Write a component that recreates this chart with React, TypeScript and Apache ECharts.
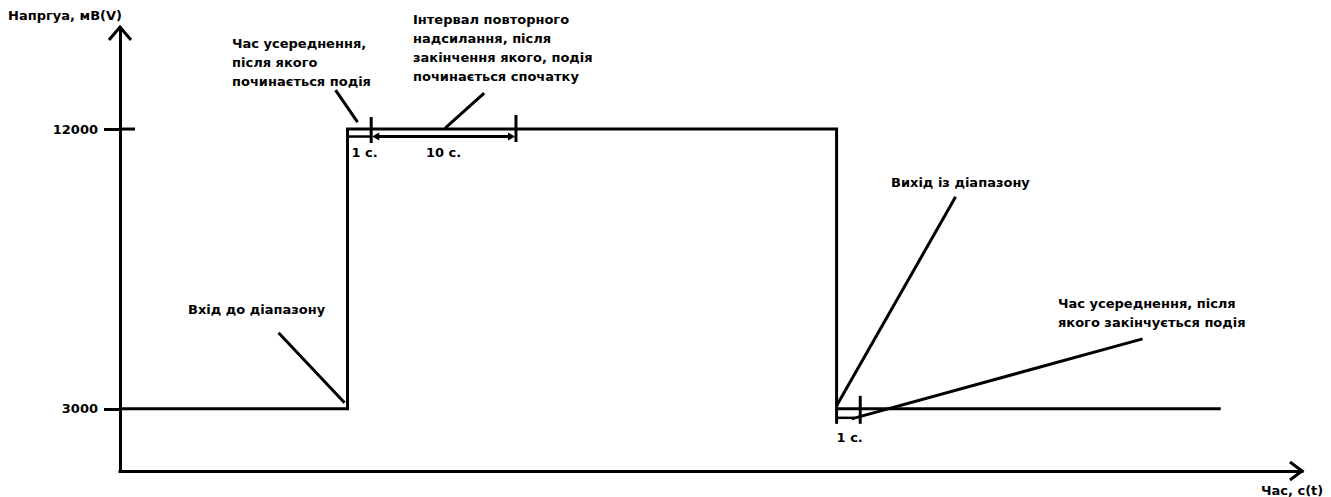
import React, { useEffect, useRef } from "react";
import * as echarts from "echarts";

// ---- data ----
const levelTimes = [0, 15.4, 15.4, 48.5, 48.5, 74.5];
const levelValues = [3000, 3000, 12000, 12000, 3000, 3000];
const yTickValues = [3000, 12000];
const highLevel = 12000;
const lowLevel = 3000;
const riseTime = 15.4;
const riseAvgEnd = 17.0; // "1 с."
const resendEnd = 26.8; // "10 с."
const fallTime = 48.5;
const fallAvgEnd = 50.1; // "1 с."
const xRange = [0, 80];
const yRange = [1000, 15250];

const yAxisName = "Напргуа, мВ(V)";
const xAxisName = "Час, с(t)";
const noteRiseAvg = ["Час усереднення,", "після якого", "починається подія"];
const noteResend = ["Інтервал повторного", "надсилання, після", "закінчення якого, подія", "починається спочатку"];
const noteEnter = ["Вхід до діапазону"];
const noteExit = ["Вихід із діапазону"];
const noteFallAvg = ["Час усереднення, після", "якого закінчується подія"];
const labelAvg = "1 с.";
const labelResend = "10 с.";

const FAMILY = '"DejaVu Sans", Verdana, sans-serif';
const FONT = `bold 13px ${FAMILY}`;
const BLACK = "#000";

export default function App() {
  const ref = useRef<HTMLDivElement>(null);

  useEffect(() => {
    if (!ref.current) return;
    const chart = echarts.init(ref.current, undefined, { renderer: "svg" });
    const gridLeft = 120, gridRight = 29, gridTop = 28, gridBottom = 26;

    chart.setOption({
      animation: false,
      grid: { left: gridLeft, right: gridRight, top: gridTop, bottom: gridBottom, containLabel: false },
      xAxis: {
        type: "value",
        min: xRange[0],
        max: xRange[1],
        axisLine: { show: true, onZero: false, lineStyle: { color: BLACK, width: 3, cap: "square" } },
        axisTick: { show: false },
        axisLabel: { show: false },
        splitLine: { show: false },
      },
      yAxis: {
        type: "value",
        min: yRange[0],
        max: yRange[1],
        axisLine: { show: true, onZero: false, lineStyle: { color: BLACK, width: 3, cap: "square" } },
        axisTick: { show: true, customValues: yTickValues, length: 16, lineStyle: { color: BLACK, width: 3 } },
        axisLabel: {
          show: true, customValues: yTickValues, margin: 22, color: BLACK,
          fontWeight: "bold", fontSize: 13, fontFamily: FAMILY,
          formatter: (v: number) => String(v),
        },
        splitLine: { show: false },
        name: yAxisName,
        nameLocation: "end",
        nameGap: 13,
        nameTextStyle: {
          color: BLACK, fontWeight: "bold", fontSize: 13, fontFamily: FAMILY,
          align: "right", verticalAlign: "middle", padding: [0, -2, 0, 0],
        },
      },
      series: [
        {
          type: "line",
          data: levelTimes.map((t, i) => [t, levelValues[i]]),
          showSymbol: false,
          symbol: "none",
          lineStyle: { color: BLACK, width: 3, join: "miter" },
          silent: true,
        },
      ],
    });

    const P = (t: number, v: number) => chart.convertToPixel({ gridIndex: 0 }, [t, v]) as number[];
    const W = chart.getWidth();
    const H = chart.getHeight();
    const x0 = gridLeft;
    const xEnd = W - gridRight;
    const yAxisY = H - gridBottom;

    const line = (x1: number, y1: number, x2: number, y2: number, w = 3) => ({
      type: "line",
      shape: { x1, y1, x2, y2 },
      style: { stroke: BLACK, lineWidth: w },
      silent: true,
    });
    const text = (lines: string[], x: number, yFirstCenter: number, align = "left") => ({
      type: "text",
      x,
      y: yFirstCenter - 9.5,
      style: {
        text: lines.join("\n"),
        font: FONT,
        fill: BLACK,
        lineHeight: 19,
        align,
        textAlign: align,
        verticalAlign: "top",
        textVerticalAlign: "top",
      },
      silent: true,
    });
    const arrowHead = (tipX: number, y: number, dir: number) => ({
      type: "polygon",
      shape: { points: [[tipX, y], [tipX - dir * 7, y - 4], [tipX - dir * 7, y + 4]] },
      style: { fill: BLACK },
      silent: true,
    });

    const riseHigh = P(riseTime, highLevel);
    const avgHigh = P(riseAvgEnd, highLevel);
    const resendHigh = P(resendEnd, highLevel);
    const riseLow = P(riseTime, lowLevel);
    const fallLow = P(fallTime, lowLevel);
    const fallAvgLow = P(fallAvgEnd, lowLevel);
    const tick12 = P(0, highLevel);

    const bracketTopY = riseHigh[1] + 7.5;
    const bracketBotY = fallLow[1] + 9;

    const graphic: any[] = [
      // axis arrows
      {
        type: "polyline",
        shape: { points: [[x0 - 11, gridTop + 12], [x0, gridTop - 1], [x0 + 11, gridTop + 12]] },
        style: { stroke: BLACK, lineWidth: 3, fill: "none", lineJoin: "miter" },
        silent: true,
      },
      {
        type: "polyline",
        shape: { points: [[xEnd - 12, yAxisY - 9], [xEnd, yAxisY], [xEnd - 12, yAxisY + 9]] },
        style: { stroke: BLACK, lineWidth: 3, fill: "none", lineJoin: "miter" },
        silent: true,
      },
      // inner part of the 12000 tick
      line(tick12[0], tick12[1], tick12[0] + 15, tick12[1]),

      // rise: 1 s averaging bracket
      line(riseHigh[0] + 1, bracketTopY, avgHigh[0], bracketTopY, 2.5),
      line(avgHigh[0], riseHigh[1] - 12, avgHigh[0], riseHigh[1] + 14),
      // 10 s resend bracket with arrows
      line(avgHigh[0] + 4, bracketTopY, resendHigh[0] - 4, bracketTopY, 3),
      arrowHead(avgHigh[0] + 1, bracketTopY, -1),
      arrowHead(resendHigh[0] - 1, bracketTopY, 1),
      line(resendHigh[0], riseHigh[1] - 14, resendHigh[0], riseHigh[1] + 13),

      // fall: 1 s averaging bracket
      line(fallLow[0], fallLow[1], fallLow[0], fallLow[1] + 15),
      line(fallAvgLow[0], fallLow[1] - 13, fallAvgLow[0], fallLow[1] + 15),
      line(fallLow[0], bracketBotY, fallAvgLow[0] - 6, bracketBotY, 2.5),

      // leader lines
      line(riseHigh[0] - 12, riseHigh[1] - 39, riseHigh[0] + 10, riseHigh[1] - 7),
      line(avgHigh[0] + 113, avgHigh[1] - 36, avgHigh[0] + 74, avgHigh[1] - 1),
      line(riseLow[0] - 69, riseLow[1] - 76, riseLow[0] - 3, riseLow[1] - 6),
      line(fallLow[0] + 119, fallLow[1] - 212, fallLow[0], fallLow[1] - 3),
      line(fallLow[0] + 15, fallLow[1] + 10, fallLow[0] + 306, fallLow[1] - 70),

      // notes
      text(noteRiseAvg, 232, 43),
      text(noteResend, 413, 19),
      text(noteEnter, 188, 309),
      text(noteExit, 891, 182),
      text(noteFallAvg, 1058, 303),
      text([labelAvg], riseHigh[0] + 4, riseHigh[1] + 23),
      text([labelResend], (avgHigh[0] + resendHigh[0]) / 2, riseHigh[1] + 23, "center"),
      text([labelAvg], fallLow[0], fallLow[1] + 29),
      // x-axis name, under the arrow
      text([xAxisName], xEnd - 41, yAxisY + 19),
    ];

    chart.setOption({ graphic });

    return () => chart.dispose();
  }, []);

  return (
    <div
      ref={ref}
      style={{ position: "absolute", left: 0, top: 0, width: 1331, height: 497, background: "#fff" }}
    />
  );
}
